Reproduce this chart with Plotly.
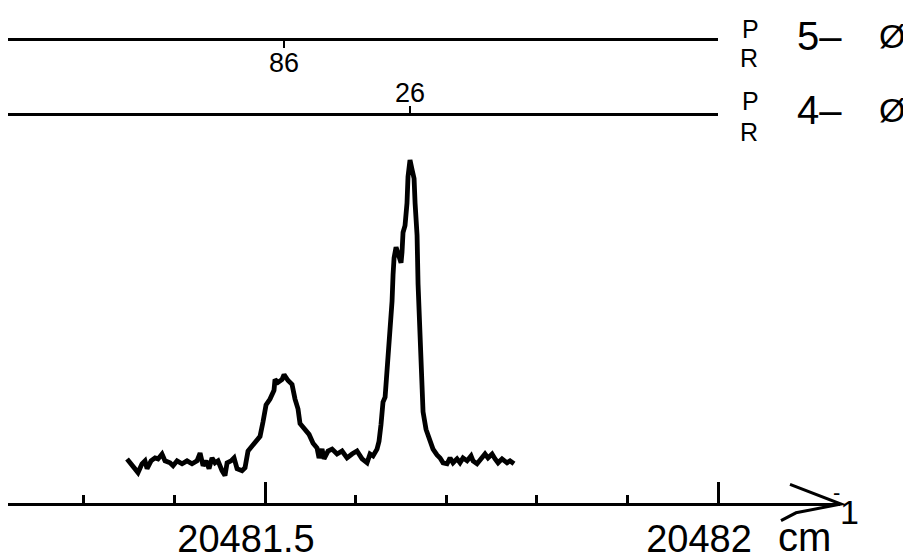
import plotly.graph_objects as go

# ---------------- data ----------------
wavenumber = [
    20481.3477, 20481.3543, 20481.3598, 20481.3642, 20481.3675, 20481.3698, 20481.3742, 20481.3786,
    20481.3819, 20481.3863, 20481.3896, 20481.3951, 20481.3985, 20481.4029, 20481.4084, 20481.4139,
    20481.4194, 20481.4249, 20481.4283, 20481.4316, 20481.4349, 20481.4382, 20481.4415, 20481.4448,
    20481.4481, 20481.4525, 20481.4558, 20481.4581, 20481.4625, 20481.4658, 20481.4691, 20481.4746,
    20481.4779, 20481.4812, 20481.4857, 20481.4912, 20481.4945, 20481.4978, 20481.5011, 20481.5055,
    20481.5099, 20481.5110, 20481.5143, 20481.5188, 20481.5210, 20481.5254, 20481.5298, 20481.5331,
    20481.5364, 20481.5386, 20481.5442, 20481.5486, 20481.5530, 20481.5574, 20481.5596, 20481.5629,
    20481.5651, 20481.5695, 20481.5740, 20481.5795, 20481.5850, 20481.5905, 20481.5960, 20481.6015,
    20481.6071, 20481.6126, 20481.6159, 20481.6192, 20481.6236, 20481.6258, 20481.6280, 20481.6302,
    20481.6325, 20481.6347, 20481.6369, 20481.6402, 20481.6413, 20481.6424, 20481.6446, 20481.6468,
    20481.6501, 20481.6512, 20481.6523, 20481.6545, 20481.6567, 20481.6578, 20481.6600, 20481.6623,
    20481.6645, 20481.6656, 20481.6678, 20481.6689, 20481.6711, 20481.6733, 20481.6744, 20481.6777,
    20481.6810, 20481.6854, 20481.6898, 20481.6932, 20481.6965, 20481.7009, 20481.7042, 20481.7075,
    20481.7119, 20481.7152, 20481.7185, 20481.7230, 20481.7274, 20481.7296, 20481.7340, 20481.7395,
    20481.7428, 20481.7461, 20481.7506, 20481.7539, 20481.7572, 20481.7616, 20481.7671, 20481.7704,
    20481.7748,
]
intensity = [
    45, 38, 31, 40, 43, 35, 43, 46,
    45, 50, 43, 41, 38, 43, 40, 43,
    40, 43, 51, 38, 43, 35, 46, 41,
    43, 33, 28, 41, 43, 46, 35, 33,
    36, 53, 58, 63, 68, 83, 100, 106,
    115, 126, 123, 126, 131, 125, 121, 106,
    96, 81, 75, 70, 61, 56, 46, 55,
    45, 53, 55, 50, 53, 46, 50, 53,
    45, 41, 50, 48, 55, 63, 80, 103,
    108, 133, 173, 206, 233, 250, 261, 255,
    245, 256, 276, 283, 306, 333, 350, 340,
    331, 306, 273, 223, 173, 123, 93, 75,
    65, 55, 49, 46, 41, 40, 46, 41,
    45, 41, 46, 43, 48, 43, 40, 46,
    50, 46, 50, 45, 41, 45, 41, 43,
    40,
]

major_ticks = [20481.5, 20482.0]
major_labels = ["20481.5", "20482"]
minor_ticks = [20481.3, 20481.4, 20481.6, 20481.7, 20481.8, 20481.9]

# line assignments (rulers above the spectrum)
band_labels = ["5\u2013", "4\u2013"]
band_lower = ["\u00d8", "\u00d8"]
line_positions = [20481.521, 20481.660]
line_labels = ["86", "26"]

# ---------------- layout helpers ----------------
# the page body adds an 8 px offset; the figure is sized so that it fills the window
OFF = 8
W, H = 911 - OFF, 560 - OFF
ML, MR, MT, MB = 0, 71, 0, 47
PW, PH = W - ML - MR, H - MT - MB
X0, X1 = 20481.2163, 20482.1346
AX_Y = OFF + MT + PH  # page y of the wavenumber axis


def px(x):
    """page pixel x -> paper fraction"""
    return (x - OFF - ML) / PW


def py(y):
    """page pixel y -> paper fraction"""
    return (AX_Y - y) / PH


FONT = "Liberation Sans, Arial, sans-serif"

fig = go.Figure()

fig.add_trace(go.Scatter(
    x=wavenumber, y=intensity, mode="lines",
    line=dict(color="black", width=4.8),
    hoverinfo="skip", showlegend=False,
))

# invisible anchors for the two ruler axes
fig.add_trace(go.Scatter(x=[line_positions[0]], y=[0], xaxis="x2", yaxis="y",
                         mode="markers", marker=dict(opacity=0), hoverinfo="skip", showlegend=False))
fig.add_trace(go.Scatter(x=[line_positions[1]], y=[0], xaxis="x3", yaxis="y",
                         mode="markers", marker=dict(opacity=0), hoverinfo="skip", showlegend=False))

ruler_end = 20482.0
ruler_dom = px(718)

fig.update_layout(
    width=W, height=H, autosize=False,
    margin=dict(l=ML, r=MR, t=MT, b=MB, pad=0),
    paper_bgcolor="white", plot_bgcolor="rgba(0,0,0,0)",
    showlegend=False,
    xaxis=dict(
        domain=[0, 1], range=[X0, X1], showgrid=False, zeroline=False,
        showline=True, linecolor="black", linewidth=3,
        ticks="inside", ticklen=21, tickwidth=3, tickcolor="black",
        tickvals=major_ticks, ticktext=major_labels,
        tickfont=dict(family=FONT, size=38, color="black"),
        ticklabelshift=-19,
        minor=dict(tickvals=minor_ticks, ticks="inside", ticklen=8,
                   tickwidth=2.5, tickcolor="black", showgrid=False),
        fixedrange=True,
    ),
    xaxis2=dict(
        domain=[0, ruler_dom], range=[X0, ruler_end], anchor="free", position=py(40),
        side="bottom", showgrid=False, zeroline=False,
        showline=True, linecolor="black", linewidth=2.5,
        ticks="outside", ticklen=7, tickwidth=2, tickcolor="black",
        tickvals=[line_positions[0]], ticktext=[line_labels[0]],
        tickfont=dict(family=FONT, size=27, color="black"),
        ticklabelstandoff=-9,
        fixedrange=True,
    ),
    xaxis3=dict(
        domain=[0, ruler_dom], range=[X0, ruler_end], anchor="free", position=py(116),
        side="top", showgrid=False, zeroline=False,
        showline=True, linecolor="black", linewidth=2.5,
        ticks="outside", ticklen=7, tickwidth=2, tickcolor="black",
        tickvals=[line_positions[1]], ticktext=[line_labels[1]],
        tickfont=dict(family=FONT, size=27, color="black"),
        ticklabelstandoff=-7,
        fixedrange=True,
    ),
    yaxis=dict(visible=False, range=[0, PH], fixedrange=True),
)

# arrow head at the end of the wavenumber axis
fig.add_shape(
    type="path", xref="paper", yref="paper",
    path=f"M {px(790)},{py(494)} L {px(841)},{py(514)} L {px(796)},{py(523)} L {px(781)},{py(531)}",
    line=dict(color="black", width=3),
)

ann = []


def add_text(t, x, y, size):
    ann.append(dict(text=t, x=px(x), y=py(y), xref="paper", yref="paper",
                    xanchor="center", yanchor="middle", showarrow=False,
                    font=dict(family=FONT, size=size, color="black")))


add_text("cm", 804, 548, 40)
add_text("-", 836, 502, 22)
add_text("1", 849, 522, 34)

row_y = [37, 112]
p_y = [29, 103]
r_y = [59, 134]
for i in range(2):
    add_text("P", 750, p_y[i], 25)
    add_text("R", 749, r_y[i], 25)
    add_text(band_labels[i], 819, row_y[i], 40)
    add_text(band_lower[i], 892, row_y[i], 34)

fig.update_layout(annotations=ann)

fig.write_html("out.html", config={"displayModeBar": False})
